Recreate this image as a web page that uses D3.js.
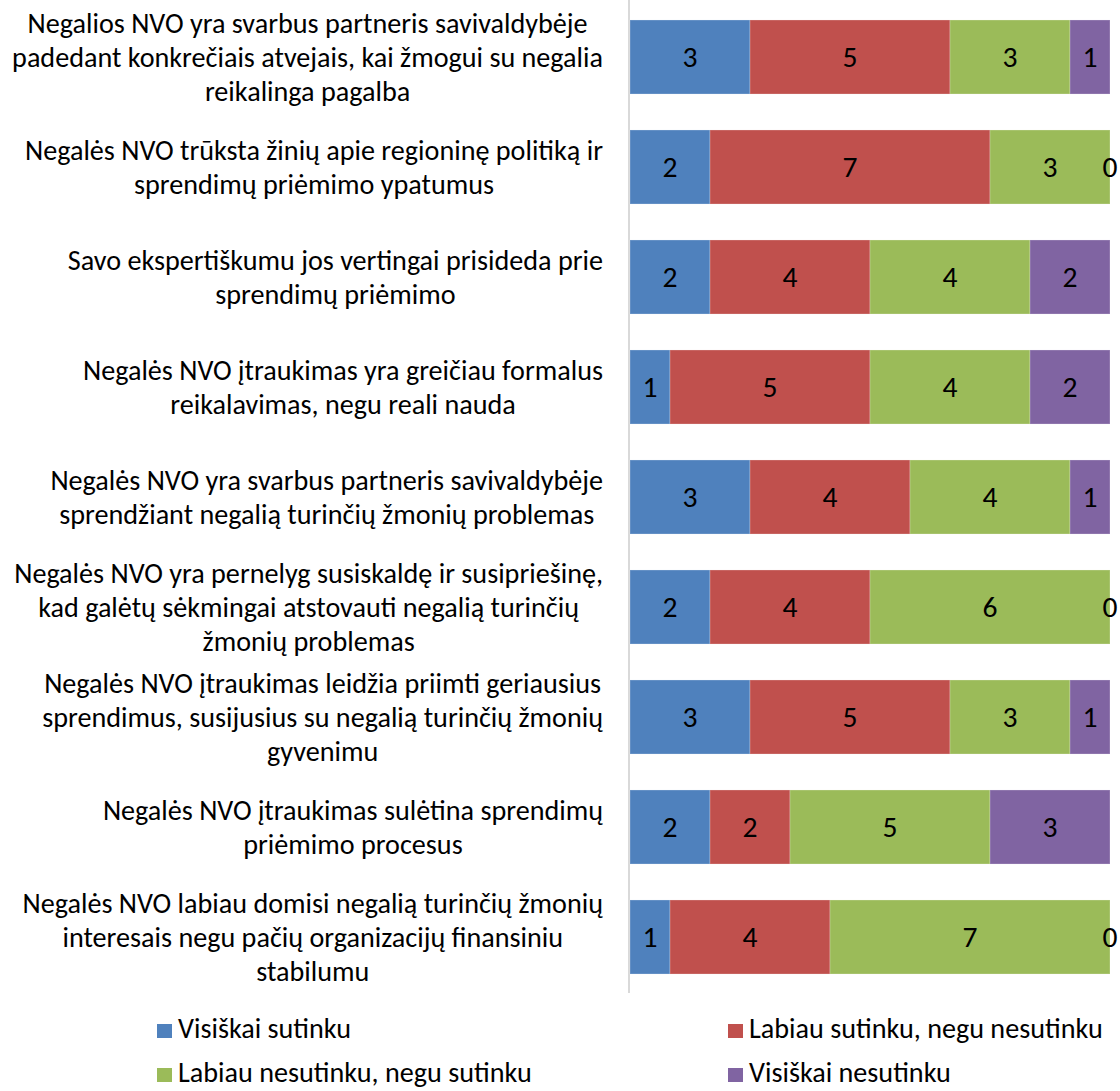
<!DOCTYPE html>
<html>
<head>
<meta charset="utf-8">
<script src="https://cdn.jsdelivr.net/npm/d3@7"></script>
<style>
  html, body { margin: 0; padding: 0; background: #fff; }
  svg { display: block; }
  text { font-family: Carlito, Calibri, Lato, "Liberation Sans", sans-serif; fill: #000; }
</style>
</head>
<body>
<svg id="chart" width="1120" height="1091"></svg>
<script>
const categories = [
  ["Negalios NVO yra svarbus partneris savivaldybėje", "padedant konkrečiais atvejais, kai žmogui su negalia", "reikalinga pagalba"],
  ["Negalės NVO trūksta žinių apie regioninę politiką ir", "sprendimų priėmimo ypatumus"],
  ["Savo ekspertiškumu jos vertingai prisideda prie", "sprendimų priėmimo"],
  ["Negalės NVO įtraukimas yra greičiau formalus", "reikalavimas, negu reali nauda"],
  ["Negalės NVO yra svarbus partneris savivaldybėje", "sprendžiant negalią turinčių žmonių problemas"],
  ["Negalės NVO yra pernelyg susiskaldę ir susipriešinę,", "kad galėtų sėkmingai atstovauti negalią turinčių", "žmonių problemas"],
  ["Negalės NVO įtraukimas leidžia priimti geriausius", "sprendimus, susijusius su negalią turinčių žmonių", "gyvenimu"],
  ["Negalės NVO įtraukimas sulėtina sprendimų", "priėmimo procesus"],
  ["Negalės NVO labiau domisi negalią turinčių žmonių", "interesais negu pačių organizacijų finansiniu", "stabilumu"]
];
const seriesNames = ["Visiškai sutinku", "Labiau sutinku, negu nesutinku", "Labiau nesutinku, negu sutinku", "Visiškai nesutinku"];
const visiskaiSutinku   = [3, 2, 2, 1, 3, 2, 3, 2, 1];
const labiauSutinku     = [5, 7, 4, 5, 4, 4, 5, 2, 4];
const labiauNesutinku   = [3, 3, 4, 4, 4, 6, 3, 5, 7];
const visiskaiNesutinku = [1, 0, 2, 2, 1, 0, 1, 3, 0];
const colors = ["#4F81BD", "#C0504D", "#9BBB59", "#8064A2"];

const svg = d3.select("#chart");
const keys = seriesNames;
const rows = categories.map((c, i) => ({
  id: i,
  [keys[0]]: visiskaiSutinku[i],
  [keys[1]]: labiauSutinku[i],
  [keys[2]]: labiauNesutinku[i],
  [keys[3]]: visiskaiNesutinku[i]
}));
const stack = d3.stack().keys(keys)(rows);

const x = d3.scaleLinear().domain([0, 12]).range([630, 1110]);
const y = d3.scaleBand().domain(rows.map(d => d.id)).range([2, 992]).paddingInner(0.327).paddingOuter(0.1635);
const color = d3.scaleOrdinal().domain(keys).range(colors);

// fit font size to the reference text widths
const probe = svg.append("text").attr("font-size", 24).text(categories[5][0]);
const w24 = probe.node().getComputedTextLength();
probe.remove();
const fs = Math.max(18, Math.min(30, 24 * 589 / w24));

// axis line
svg.append("line").attr("x1", 629).attr("x2", 629).attr("y1", 0).attr("y2", 993)
  .attr("stroke", "#d9d9d9").attr("stroke-width", 2);

// bars
const g = svg.append("g");
stack.forEach(layer => {
  g.append("g").selectAll("rect").data(layer).join("rect")
    .attr("x", d => x(d[0]))
    .attr("y", d => y(d.data.id))
    .attr("width", d => x(d[1]) - x(d[0]))
    .attr("height", y.bandwidth())
    .attr("fill", color(layer.key))
    .attr("stroke", "rgba(255,255,255,0.25)")
    .attr("stroke-width", 1);
  g.append("g").selectAll("text").data(layer).join("text")
    .attr("x", d => (x(d[0]) + x(d[1])) / 2)
    .attr("y", d => y(d.data.id) + y.bandwidth() / 2)
    .attr("dy", "0.35em")
    .attr("text-anchor", "middle")
    .attr("font-size", fs * 1.05)
    .text(d => d[1] - d[0]);
});

// category labels
const lineH = 34;
categories.forEach((lines, i) => {
  const cy = y(i) + y.bandwidth() / 2;
  const grp = svg.append("g");
  const texts = lines.map((l, j) => grp.append("text")
    .attr("font-size", fs)
    .attr("text-anchor", "middle")
    .attr("y", cy + (j - (lines.length - 1) / 2) * lineH)
    .attr("dy", "0.35em")
    .text(l));
  const maxW = d3.max(texts, t => t.node().getComputedTextLength());
  texts.forEach(t => t.attr("x", 603 - maxW / 2));
});

// legend
const legendItems = [
  {name: keys[0], mx: 157, by: 1038},
  {name: keys[1], mx: 728, by: 1038},
  {name: keys[2], mx: 157, by: 1082},
  {name: keys[3], mx: 728, by: 1082}
];
const lg = svg.append("g");
legendItems.forEach(it => {
  lg.append("rect").attr("x", it.mx).attr("y", it.by - 14).attr("width", 15).attr("height", 14)
    .attr("fill", color(it.name));
  lg.append("text").attr("x", it.mx + 21).attr("y", it.by).attr("font-size", fs).text(it.name);
});
</script>
</body>
</html>
